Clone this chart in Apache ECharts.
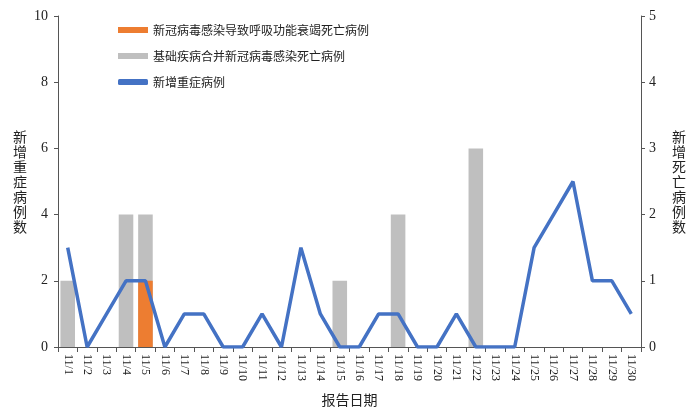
<!DOCTYPE html>
<html><head><meta charset="utf-8">
<script src="https://cdn.jsdelivr.net/npm/echarts@6/dist/echarts.min.js"></script>
<style>html,body{margin:0;padding:0;background:#fff}#c{width:700px;height:415px}</style>
</head><body><div id="c"></div>
<script>
const categories = ['11/1','11/2','11/3','11/4','11/5','11/6','11/7','11/8','11/9','11/10','11/11','11/12','11/13','11/14','11/15','11/16','11/17','11/18','11/19','11/20','11/21','11/22','11/23','11/24','11/25','11/26','11/27','11/28','11/29','11/30'];
const respDeaths = [0,0,0,0,1,0,0,0,0,0,0,0,0,0,0,0,0,0,0,0,0,0,0,0,0,0,0,0,0,0];
const comorbDeaths = [1,0,0,2,2,0,0,0,0,0,0,0,0,0,1,0,0,2,0,0,0,3,0,0,0,0,0,0,0,0];
const severeCases = [3,0,1,2,2,0,1,1,0,0,1,0,3,1,0,0,1,1,0,0,1,0,0,0,3,4,5,2,2,1];
const leftTicks = {min:0, max:10, interval:2};
const rightTicks = {min:0, max:5, interval:1};

const serif = '"Liberation Serif","Times New Roman",serif';
const cjk = '"Noto Sans CJK SC","Noto Sans",sans-serif';
const chart = echarts.init(document.getElementById('c'));
chart.setOption({
  animation:false,
  grid:{left:58, right:59, top:16, bottom:68},
  legend:{
    orient:'vertical', left:113, top:19, itemGap:14, itemWidth:30, itemHeight:6,
    data:[
      {name:'新冠病毒感染导致呼吸功能衰竭死亡病例', icon:'rect'},
      {name:'基础疾病合并新冠病毒感染死亡病例', icon:'rect'},
      {name:'新增重症病例', icon:'roundRect'}
    ],
    textStyle:{fontFamily:cjk, fontSize:12, color:'#222'}
  },
  xAxis:{
    type:'category', data:categories, boundaryGap:true,
    name:'报告日期', nameLocation:'middle', nameGap:46,
    nameTextStyle:{fontFamily:cjk, fontSize:14, color:'#222'},
    axisLine:{lineStyle:{color:'#555'}},
    axisTick:{show:true, alignWithLabel:false, lineStyle:{color:'#555'}, length:5},
    axisLabel:{interval:0, rotate:-90, fontFamily:serif, fontSize:12, color:'#222', margin:7}
  },
  yAxis:[{
    type:'value', min:leftTicks.min, max:leftTicks.max, interval:leftTicks.interval,
    name:'新\n增\n重\n症\n病\n例\n数', nameLocation:'middle', nameRotate:0, nameGap:31,
    nameTextStyle:{fontFamily:cjk, fontSize:14, color:'#222', lineHeight:15},
    axisLine:{show:true, lineStyle:{color:'#555'}},
    axisTick:{show:true, length:4, lineStyle:{color:'#555'}},
    splitLine:{show:false},
    axisLabel:{fontFamily:serif, fontSize:14, color:'#222', margin:10}
  },{
    type:'value', min:rightTicks.min, max:rightTicks.max, interval:rightTicks.interval,
    name:'新\n增\n死\n亡\n病\n例\n数', nameLocation:'middle', nameRotate:0, nameGap:31,
    nameTextStyle:{fontFamily:cjk, fontSize:14, color:'#222', lineHeight:15},
    axisLine:{show:true, lineStyle:{color:'#555'}},
    axisTick:{show:true, length:4, lineStyle:{color:'#555'}},
    splitLine:{show:false},
    axisLabel:{fontFamily:serif, fontSize:14, color:'#222', margin:8}
  }],
  series:[{
    name:'基础疾病合并新冠病毒感染死亡病例', type:'bar', yAxisIndex:1,
    data:comorbDeaths, barWidth:'75%', barGap:'-100%',
    itemStyle:{color:'#BFBFBF'}
  },{
    name:'新冠病毒感染导致呼吸功能衰竭死亡病例', type:'bar', yAxisIndex:1,
    data:respDeaths, barWidth:'75%', barGap:'-100%',
    itemStyle:{color:'#ED7D31'}
  },{
    name:'新增重症病例', type:'line', yAxisIndex:0, data:severeCases,
    symbol:'none', lineStyle:{color:'#4472C4', width:3.5}, itemStyle:{color:'#4472C4'}
  }]
});
</script></body></html>
